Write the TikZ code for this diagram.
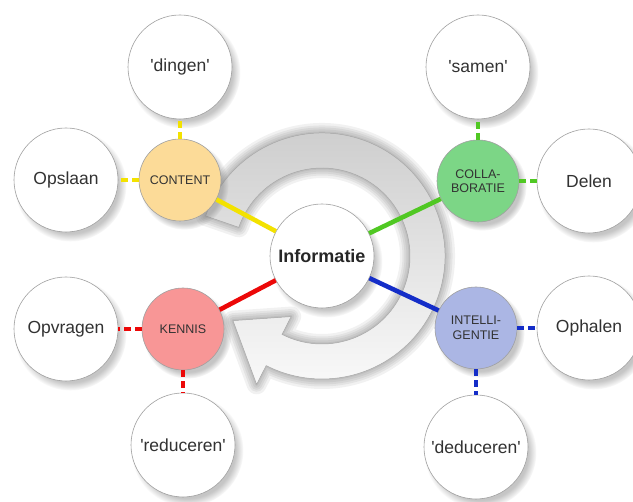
\documentclass[tikz,border=0pt]{standalone}
\usepackage{fontspec}
\setmainfont{Liberation Sans}
\usetikzlibrary{shadows,calc}

\definecolor{txt}{RGB}{50,50,50}
\definecolor{rimgray}{RGB}{160,160,160}
\definecolor{cyellow}{RGB}{243,226,0}
\definecolor{cgreen}{RGB}{80,200,35}
\definecolor{cblue}{RGB}{20,45,200}
\definecolor{cred}{RGB}{236,8,8}
\definecolor{fcontent}{RGB}{252,219,152}
\definecolor{fcollab}{RGB}{124,214,134}
\definecolor{fintel}{RGB}{171,182,228}
\definecolor{fkennis}{RGB}{248,150,150}

\newcommand{\sq}{\textquotesingle}

\tikzset{
  softshadow/.style={circular drop shadow={shadow xshift=4pt, shadow yshift=-5pt, opacity=0.45, shadow scale=1.08}},
  bigc/.style={circle, draw=rimgray, line width=0.6pt, fill=white, minimum size=104pt,
    inner sep=0pt, text=txt, font=\fontsize{17.5}{20}\selectfont, softshadow},
  smallc/.style={circle, draw=rimgray, line width=0.6pt, minimum size=82pt, inner sep=0pt,
    text=txt, align=center, font=\fontsize{12.5}{14.5}\selectfont, softshadow},
  hubc/.style={circle, draw=rimgray, line width=0.6pt, fill=white, minimum size=104pt,
    inner sep=0pt, text=black!85, font=\fontsize{18}{20}\selectfont\bfseries, softshadow},
  solidlink/.style={line width=4.6pt},
  dashlink/.style={line width=4pt, dash pattern=on 7pt off 4pt},
  ringfill/.style={top color=gray!40, bottom color=gray!5, draw=gray!65, line width=0.5pt},
}

\begin{document}
\begin{tikzpicture}[x=1pt,y=1pt]
\useasboundingbox (0,0) rectangle (633,502);
\fill[white] (0,0) rectangle (633,502);

\coordinate (hub) at (322,246);

% circular arrow around the hub: tail at upper left, head at lower left
\def\ringpath{($(hub)+(161:123)$) arc[start angle=161, end angle=-117, radius=123]
  -- ($(hub)+(-117:144)$) -- ($(hub)+(-144:110)$) -- ($(hub)+(-117:68)$)
  -- ($(hub)+(-117:88)$) arc[start angle=-117, end angle=161, radius=88] -- cycle}

% soft shadow of the arrow
\begin{scope}[shift={(6,-8)}]
  \foreach \w in {20,15,11,7,3}
    \path[fill=black, draw=black, opacity=0.055, line width=\w pt, line join=round] \ringpath;
\end{scope}
\path[ringfill] \ringpath;

% nodes
\node[hubc] (info) at (hub) {Informatie};

\node[smallc, fill=fcontent] (content) at (180,322) {CONTENT};
\node[smallc, fill=fcollab] (collab) at (478,321) {COLLA-\\BORATIE};
\node[smallc, fill=fintel] (intel) at (476,174) {INTELLI-\\GENTIE};
\node[smallc, fill=fkennis] (kennis) at (183,173) {KENNIS};

\node[bigc] (dingen) at (180,435) {\sq dingen\sq};
\node[bigc] (samen) at (478,435) {\sq samen\sq};
\node[bigc] (opslaan) at (66,322) {Opslaan};
\node[bigc] (delen) at (589,321) {Delen};
\node[bigc] (opvragen) at (66,173) {Opvragen};
\node[bigc] (ophalen) at (589,174) {Ophalen};
\node[bigc] (reduceren) at (183,57) {\sq reduceren\sq};
\node[bigc] (deduceren) at (476,55) {\sq deduceren\sq};

% solid links from the hub
\draw[solidlink, cyellow] (info) -- (content);
\draw[solidlink, cgreen] (info) -- (collab);
\draw[solidlink, cblue] (info) -- (intel);
\draw[solidlink, cred] (info) -- (kennis);

% dashed links to the outer circles
\draw[dashlink, cyellow] (content) -- (dingen);
\draw[dashlink, cyellow] (content) -- (opslaan);
\draw[dashlink, cgreen] (collab) -- (samen);
\draw[dashlink, cgreen] (collab) -- (delen);
\draw[dashlink, cblue] (intel) -- (ophalen);
\draw[dashlink, cblue] (intel) -- (deduceren);
\draw[dashlink, cred] (kennis) -- (opvragen);
\draw[dashlink, cred] (kennis) -- (reduceren);
\end{tikzpicture}
\end{document}
